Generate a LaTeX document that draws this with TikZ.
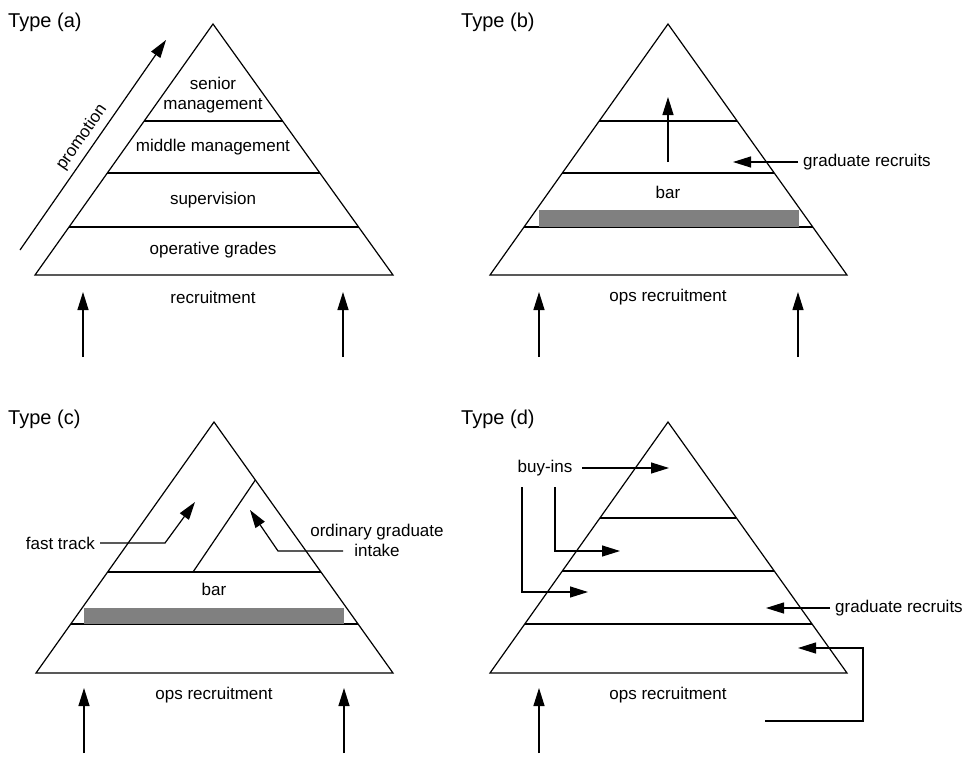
\documentclass[tikz,border=0pt]{standalone}
\usepackage{fontspec}
\setmainfont{Liberation Sans}
\usetikzlibrary{arrows.meta,calc}
\tikzset{
 ln/.style={line width=1.2pt},
 arr/.style={ln, -{Triangle[length=18pt,width=11pt]}},
 lbl/.style={font=\fontsize{17}{20}\selectfont, inner sep=1pt},
 ttl/.style={font=\fontsize{20}{22}\selectfont, anchor=west, inner sep=0pt},
 barfill/.style={fill=black!50, draw=none}
}
\begin{document}
\begin{tikzpicture}[x=1pt,y=-1pt]
\useasboundingbox (0,0) rectangle (967,756);

% ---------------- Type (a)
\node[ttl] (ta) at (8,22) {Type (a)};
\coordinate (aT) at (213,24); \coordinate (aL) at (35,275); \coordinate (aR) at (393,275);
\draw[ln] (aT) -- (aR) -- (aL) -- cycle;
\foreach \t in {0.3865,0.5936,0.8088} \draw[ln] ($(aT)!\t!(aL)$) -- ($(aT)!\t!(aR)$);
\node[lbl, align=center] (asm) at (213,95) {senior\\management};
\node[lbl] (amm) at (213,147) {middle management};
\node[lbl] (asu) at (213,200) {supervision};
\node[lbl] (aop) at (213,250) {operative grades};
\node[lbl] (arc) at (213,297) {recruitment};
\coordinate (pa0) at (20,250); \coordinate (pa1) at (166,40);
\draw[arr] (pa0) -- node[lbl, sloped, above=4pt, pos=0.5] (aprom) {promotion} (pa1);
\coordinate (a1s) at (83,357); \coordinate (a1e) at (83,292);
\coordinate (a2s) at (343,357); \coordinate (a2e) at (343,292);
\draw[arr] (a1s) -- (a1e);
\draw[arr] (a2s) -- (a2e);

% ---------------- Type (b)
\node[ttl] (tb) at (461,22) {Type (b)};
\coordinate (bT) at (668,24); \coordinate (bL) at (490,275); \coordinate (bR) at (847,275);
\draw[ln] (bT) -- (bR) -- (bL) -- cycle;
\foreach \t in {0.3865,0.5936,0.8088} \draw[ln] ($(bT)!\t!(bL)$) -- ($(bT)!\t!(bR)$);
\fill[barfill] (539,210) rectangle (799,227);
\node[lbl] (bbar) at (668,192) {bar};
\node[lbl] (brc) at (668,297) {ops recruitment};
\coordinate (bus) at (668,162); \coordinate (bue) at (668,97);
\draw[arr] (bus) -- (bue);
\node[lbl, anchor=west] (bgr) at (802,162) {graduate recruits};
\coordinate (bgs) at (798,162); \coordinate (bge) at (733,162);
\draw[arr] (bgs) -- (bge);
\coordinate (b1s) at (539,357); \coordinate (b1e) at (539,292);
\coordinate (b2s) at (798,357); \coordinate (b2e) at (798,292);
\draw[arr] (b1s) -- (b1e);
\draw[arr] (b2s) -- (b2e);

% ---------------- Type (c)
\node[ttl] (tc) at (8,419) {Type (c)};
\coordinate (cT) at (214,422); \coordinate (cL) at (36,673); \coordinate (cR) at (393,673);
\draw[ln] (cT) -- (cR) -- (cL) -- cycle;
\foreach \t in {0.5976,0.8048} \draw[ln] ($(cT)!\t!(cL)$) -- ($(cT)!\t!(cR)$);
\fill[barfill] (84,608) rectangle (344,624);
\coordinate (cd0) at (193,572);
\coordinate (cd1) at ($(cT)!0.231!(cR)$);
\draw[ln] (cd0) -- (cd1);
\node[lbl] (cbar) at (214,589) {bar};
\node[lbl] (crc) at (214,695) {ops recruitment};
\node[lbl, anchor=east] (cft) at (96,543) {fast track};
\coordinate (cf0) at (100,543); \coordinate (cf1) at (165,543); \coordinate (cf2) at (195,502);
\draw[arr] (cf0) -- (cf1) -- (cf2);
\node[lbl, align=center] (cog) at (377,540) {ordinary graduate\\intake};
\coordinate (co0) at (343,551); \coordinate (co1) at (278,551); \coordinate (co2) at (250,510);
\draw[arr] (co0) -- (co1) -- (co2);
\coordinate (c1s) at (84,753); \coordinate (c1e) at (84,688);
\coordinate (c2s) at (344,753); \coordinate (c2e) at (344,688);
\draw[arr] (c1s) -- (c1e);
\draw[arr] (c2s) -- (c2e);

% ---------------- Type (d)
\node[ttl] (td) at (461,419) {Type (d)};
\coordinate (dT) at (668,422); \coordinate (dL) at (490,673); \coordinate (dR) at (847,673);
\draw[ln] (dT) -- (dR) -- (dL) -- cycle;
\foreach \t in {0.3825,0.5936,0.8048} \draw[ln] ($(dT)!\t!(dL)$) -- ($(dT)!\t!(dR)$);
\node[lbl] (dbi) at (545,468) {buy-ins};
\coordinate (db0) at (582,468); \coordinate (db1) at (669,468);
\draw[arr] (db0) -- (db1);
\coordinate (dm0) at (555,487); \coordinate (dm1) at (555,551); \coordinate (dm2) at (620,551);
\draw[arr] (dm0) -- (dm1) -- (dm2);
\coordinate (dl0) at (522,487); \coordinate (dl1) at (522,592); \coordinate (dl2) at (588,592);
\draw[arr] (dl0) -- (dl1) -- (dl2);
\node[lbl, anchor=west] (dgr) at (834,608) {graduate recruits};
\coordinate (dg0) at (830,608); \coordinate (dg1) at (766,608);
\draw[arr] (dg0) -- (dg1);
\coordinate (dr0) at (765,721); \coordinate (dr1) at (863,721); \coordinate (dr2) at (863,648); \coordinate (dr3) at (798,648);
\draw[arr] (dr0) -- (dr1) -- (dr2) -- (dr3);
\node[lbl] (drc) at (668,695) {ops recruitment};
\coordinate (d1s) at (539,753); \coordinate (d1e) at (539,688);
\draw[arr] (d1s) -- (d1e);
\end{tikzpicture}
\end{document}
